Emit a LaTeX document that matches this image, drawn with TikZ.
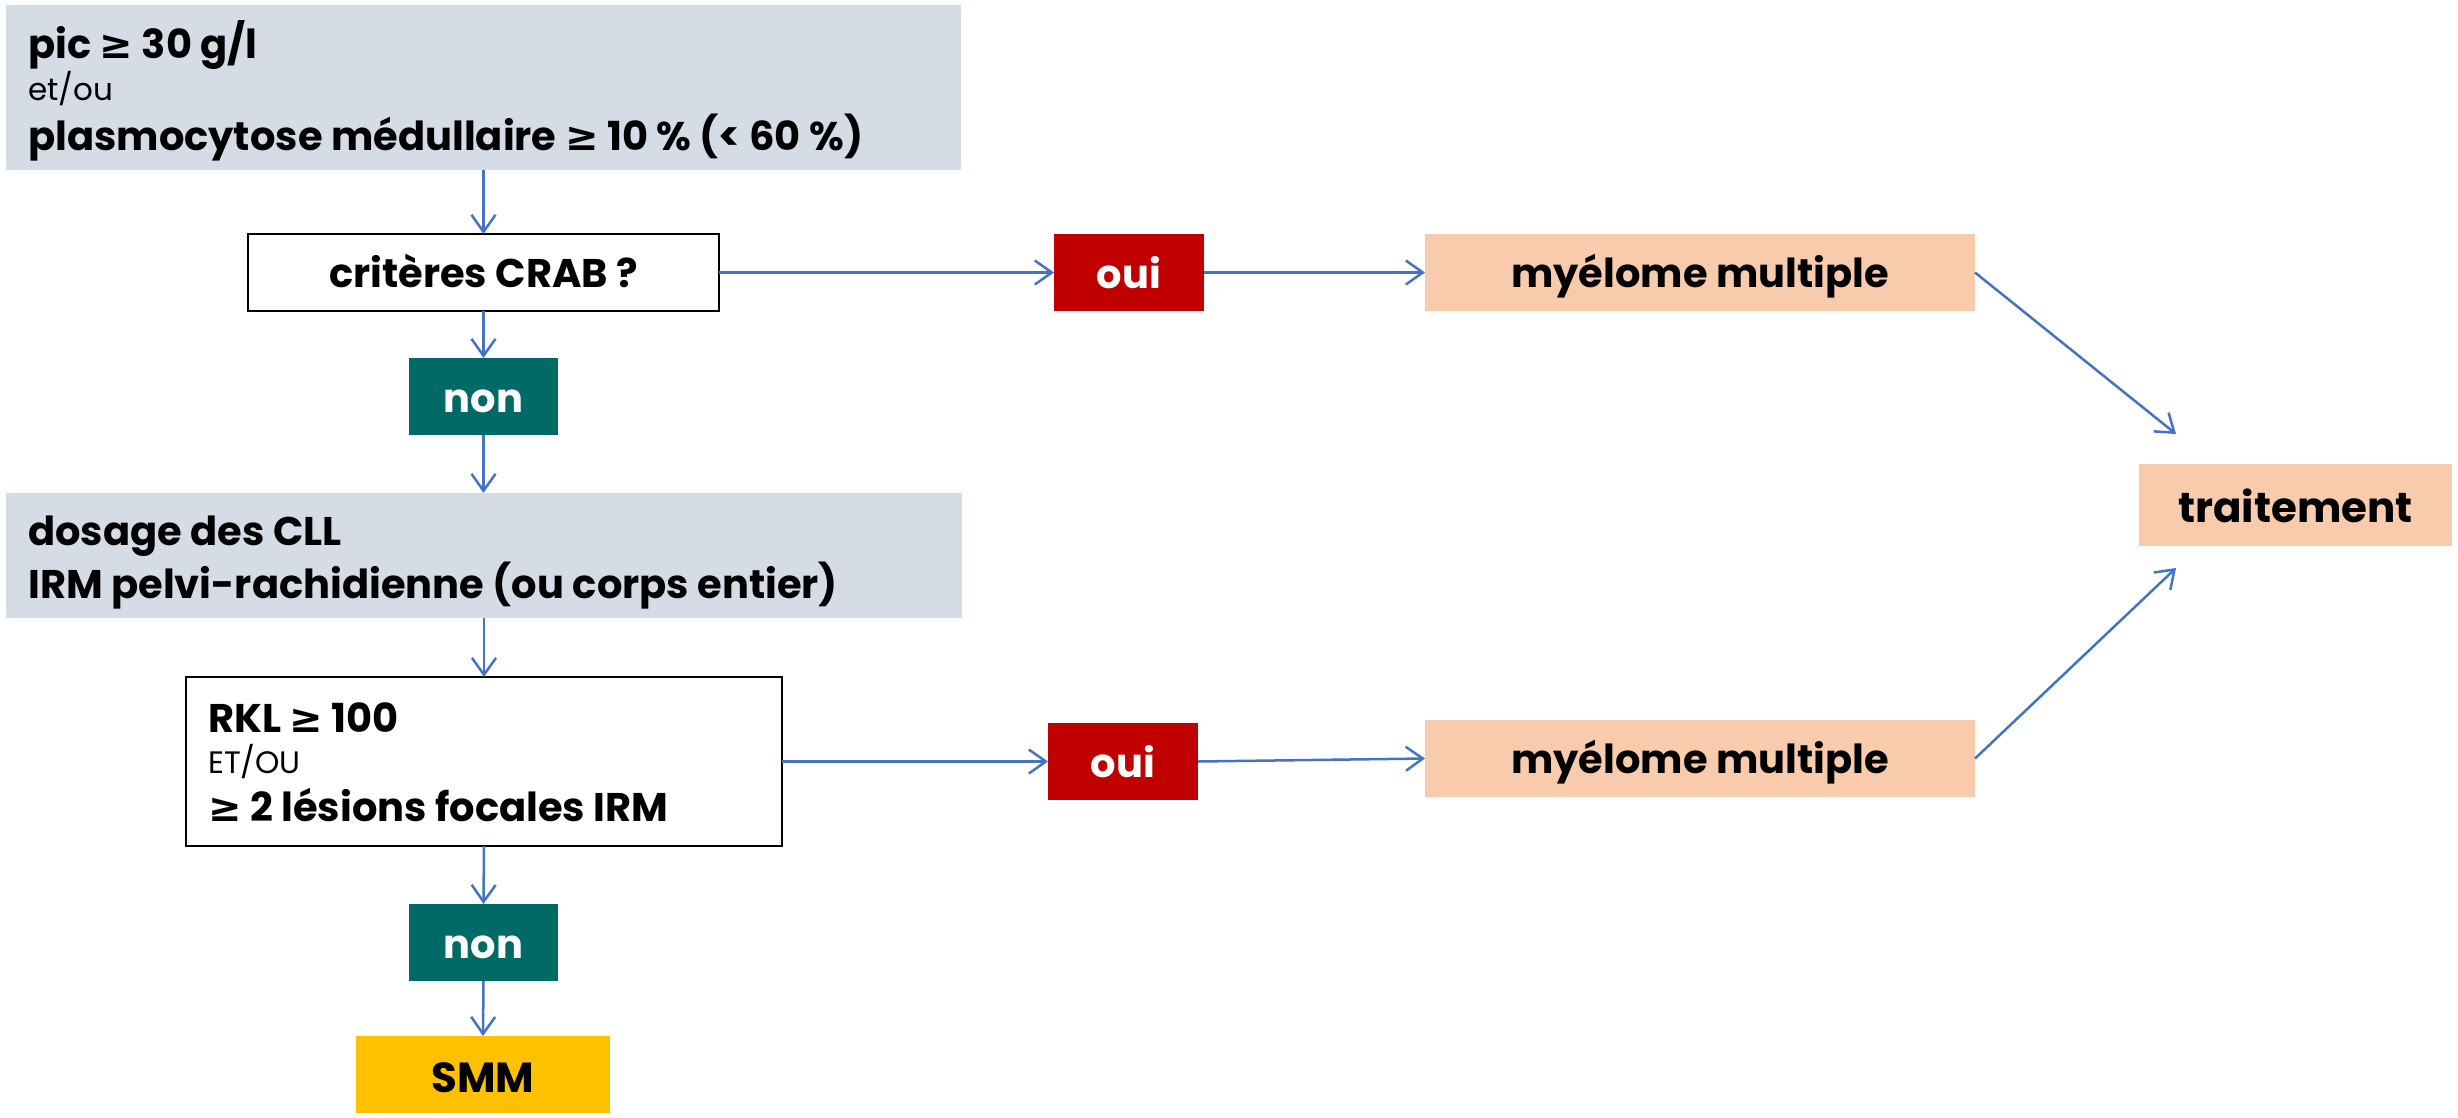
\documentclass[tikz,border=0pt]{standalone}
\usepackage{fontspec}
\setmainfont{Poppins}
\newfontfamily\symfont{DejaVu Sans}
\usetikzlibrary{arrows.meta}
\newcommand{\gesym}{{\symfont\bfseries ≥}}
\definecolor{boxgray}{HTML}{D6DCE5}
\definecolor{noteal}{RGB}{0,106,102}
\definecolor{ouired}{HTML}{C00000}
\definecolor{peach}{HTML}{F8CBAD}
\definecolor{smmgold}{HTML}{FFC000}
\definecolor{arrowblue}{HTML}{4472C4}
\tikzset{
  x=1pt, y=-1pt,
  boldfont/.style={font=\fontsize{40}{46}\selectfont\bfseries},
  plain/.style={draw=none, inner sep=0pt, outer sep=0pt},
  graybox/.style={plain, fill=boxgray},
  framebox/.style={inner sep=0pt, outer sep=0pt, draw=black, line width=2.5pt, fill=white},
  oneline/.style={text height=#1, text depth=0pt},
  nonbox/.style={plain, fill=noteal, text=white, boldfont, oneline=31pt},
  ouibox/.style={plain, fill=ouired, text=white, boldfont, oneline=31pt},
  resultbox/.style={plain, fill=peach, boldfont, oneline=29pt},
  smmbox/.style={plain, fill=smmgold, font=\fontsize{42}{48}\selectfont\bfseries, oneline=35pt},
  bigtxt/.style={inner sep=0pt, anchor=base west, boldfont},
  smalltxt/.style={inner sep=0pt, anchor=base west, font=\fontsize{31}{36}\selectfont},
  flow/.style={draw=arrowblue, line width=2.5pt, -{Straight Barb[length=17pt,width=24pt,line width=2.5pt]}}
}
\begin{document}
\begin{tikzpicture}
\useasboundingbox (0,0) rectangle (2458,1117);

% left column
\node[graybox, minimum width=955pt, minimum height=165pt] (top) at (483.5,87.5) {};
\node[bigtxt] (topa) at (28,58) {pic \gesym\ 30 g/l};
\node[smalltxt] (topb) at (28,100) {et/ou};
\node[bigtxt] (topc) at (28,150) {plasmocytose médullaire \gesym\ 10 \% (< 60 \%)};

\node[framebox, minimum width=471pt, minimum height=77pt, boldfont, oneline=29pt] (crab) at (483.5,272.5) {critères CRAB ?};

\node[nonbox, minimum width=149pt, minimum height=77pt] (non1) at (483.5,396.5) {non};

\node[graybox, minimum width=956pt, minimum height=125pt] (dos) at (484,555.5) {};
\node[bigtxt] (dosa) at (28,545) {dosage des CLL};
\node[bigtxt] (dosb) at (28,598) {IRM pelvi-rachidienne (ou corps entier)};

\node[framebox, minimum width=596pt, minimum height=169pt] (rkl) at (484,761.5) {};
\node[bigtxt] (rkla) at (208,732) {RKL \gesym\ 100};
\node[smalltxt] (rklb) at (208,773) {ET/OU};
\node[bigtxt] (rklc) at (208,821) {\gesym\ 2 lésions focales IRM};

\node[nonbox, minimum width=149pt, minimum height=77pt] (non2) at (483.5,942.5) {non};
\node[smmbox, minimum width=254pt, minimum height=77pt] (smm) at (483,1074.5) {SMM};

% right part
\node[ouibox, minimum width=150pt, minimum height=77pt] (oui1) at (1129,272.5) {oui};
\node[resultbox, minimum width=550pt, minimum height=77pt] (mm1) at (1700,272.5) {myélome multiple};
\node[ouibox, minimum width=150pt, minimum height=77pt] (oui2) at (1123,761.5) {oui};
\node[resultbox, minimum width=550pt, minimum height=77pt] (mm2) at (1700,758.5) {myélome multiple};
\node[resultbox, minimum width=313pt, minimum height=82pt, font=\fontsize{42}{48}\selectfont\bfseries, oneline=34pt] (trait) at (2295.5,505) {traitement};

\coordinate (tipA) at (2176,434);
\coordinate (tipB) at (2176,568);

% connectors
\draw[flow] (top.south) -- (crab.north);
\draw[flow] (crab.south) -- (non1.north);
\draw[flow] (non1.south) -- (dos.north -| non1.south);
\draw[flow] (dos.south -| rkl.north) -- (rkl.north);
\draw[flow] (rkl.south) -- (non2.north);
\draw[flow] (non2.south) -- (smm.north);
\draw[flow] (crab.east) -- (oui1.west);
\draw[flow] (oui1.east) -- (mm1.west);
\draw[flow] (rkl.east) -- (oui2.west);
\draw[flow] (oui2.east) -- (mm2.west);
\draw[flow] (mm1.east) -- (tipA);
\draw[flow] (mm2.east) -- (tipB);
\end{tikzpicture}
\end{document}
